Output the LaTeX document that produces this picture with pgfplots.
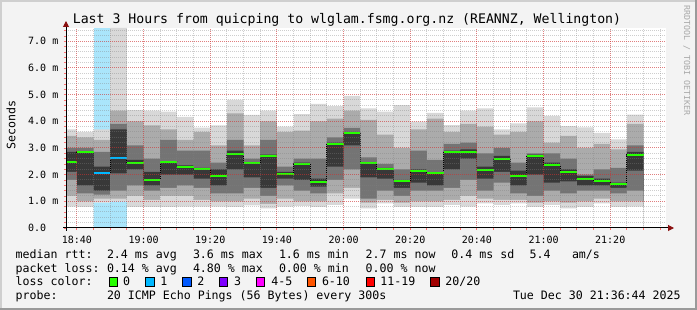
\documentclass[border=0pt]{standalone}
\usepackage{pgfplots}
\pgfplotsset{compat=1.18}
\usepackage{pgfplotstable}
\usetikzlibrary{arrows.meta}
\usepackage{fontspec}
\setmainfont{DejaVu Sans Mono}
\setmonofont{DejaVu Sans Mono}

\definecolor{bgc}{HTML}{F3F3F3}
\definecolor{brdlight}{HTML}{CFCFCF}
\definecolor{brddark}{HTML}{9A9A9A}
\definecolor{smA}{HTML}{D8D8D8}
\definecolor{smB}{HTML}{ABABAB}
\definecolor{smC}{HTML}{747474}
\definecolor{smD}{HTML}{383838}
\definecolor{loss0}{HTML}{26FF00}
\definecolor{loss1}{HTML}{00B8FF}
\definecolor{loss2}{HTML}{0059FF}
\definecolor{loss3}{HTML}{7E00FF}
\definecolor{loss4}{HTML}{FF00FF}
\definecolor{loss6}{HTML}{FF5500}
\definecolor{loss11}{HTML}{FF0000}
\definecolor{loss20}{HTML}{A10000}
\definecolor{lossbg}{HTML}{AAE5FB}
\definecolor{arrowred}{HTML}{8B1010}
\definecolor{wmark}{HTML}{A8A8A8}

% x = minutes after 18:00 (left edge of each 5-minute step)
\pgfplotstableread{
x   alo  ahi  blo  bhi  clo  chi  dlo  dhi  med
35  0.80 3.70 1.20 3.45 1.80 3.00 2.10 2.85 2.49
40  0.78 3.60 1.00 3.40 1.30 3.00 1.60 2.85 2.86
45  0.95 3.70 1.10 3.30 1.25 2.85 1.40 2.30 2.05
50  1.00 7.50 1.10 4.40 1.40 3.90 2.05 3.70 2.64
55  0.78 4.42 1.20 4.00 1.60 3.10 2.20 2.55 2.45
60  0.78 4.40 1.05 3.85 1.40 2.60 1.60 2.10 1.81
65  0.78 4.36 1.20 3.70 1.50 3.30 2.00 2.50 2.49
70  0.80 4.17 1.20 3.30 1.60 2.90 2.00 2.35 2.30
75  0.80 3.76 1.05 3.60 1.50 2.90 1.85 2.25 2.21
80  0.80 3.85 1.00 3.10 1.30 2.45 1.60 2.20 1.96
85  0.78 4.80 1.00 4.30 1.30 3.30 2.20 2.90 2.76
90  0.85 4.24 1.10 3.10 1.50 2.60 1.90 2.45 2.42
95  0.74 4.40 0.90 4.00 1.20 3.30 1.50 2.75 2.71
100 0.80 3.80 1.10 3.60 1.60 2.30 1.85 2.10 2.04
105 0.82 4.27 1.00 3.65 1.40 2.60 1.80 2.45 2.41
110 0.78 4.65 1.00 4.00 1.30 2.60 1.55 1.85 1.71
115 0.86 4.57 1.30 4.10 1.80 3.40 2.30 3.20 3.16
120 1.10 4.95 1.50 4.40 2.20 3.75 3.10 3.60 3.58
125 0.74 4.49 0.95 4.05 1.10 2.65 1.90 2.45 2.42
130 0.92 4.36 1.05 3.50 1.40 2.40 1.85 2.25 2.22
135 0.78 4.61 0.95 3.00 1.20 2.20 1.50 1.80 1.78
140 0.78 3.99 1.00 3.70 1.40 2.90 1.70 2.20 2.15
145 0.78 4.32 1.00 4.10 1.40 2.55 1.60 2.05 2.05
150 0.86 3.86 1.05 3.60 1.50 3.15 2.20 2.90 2.86
155 0.80 4.40 1.20 3.90 1.80 3.20 2.60 2.95 2.86
160 0.92 4.49 1.10 3.80 1.40 2.80 1.85 2.30 2.17
165 0.86 3.70 1.05 3.50 1.70 3.00 2.10 2.70 2.60
170 0.92 3.92 1.05 3.60 1.30 2.45 1.60 2.15 1.96
175 0.78 4.52 0.95 4.00 1.20 2.80 2.00 2.75 2.69
180 0.86 4.20 1.00 3.20 1.40 2.80 1.70 2.45 2.37
185 0.74 3.82 0.95 3.45 1.30 2.60 1.75 2.20 2.11
190 0.78 3.77 1.00 3.00 1.40 2.00 1.60 1.95 1.85
195 0.92 3.57 1.10 3.15 1.40 2.20 1.60 1.85 1.77
200 0.78 3.32 1.00 2.95 1.30 2.25 1.50 1.70 1.64
205 0.80 4.25 1.00 3.90 1.40 3.10 2.15 2.85 2.75
210 0.80 4.25 1.00 3.90 1.40 3.10 2.15 2.85 2.75
}\smoke

\begin{document}
\begin{tikzpicture}[x=1pt,y=1pt]
\fill[bgc] (0,0) rectangle (697,310);
\fill[brdlight] (0,308) rectangle (697,310);
\fill[brdlight] (0,0) rectangle (2,310);
\fill[brddark] (0,0) rectangle (697,2);
\fill[brddark] (695,0) rectangle (697,310);

\begin{axis}[
  at={(66pt,82pt)}, anchor=south west,
  scale only axis, width=600pt, height=200pt,
  xmin=36.7333, xmax=216.7333, ymin=0, ymax=7.5,
  axis line style={draw=none},
  axis background/.style={fill=white},
  axis on top,
  xtick={40,60,...,200},
  xticklabels={18:40,19:00,19:20,19:40,20:00,20:20,20:40,21:00,21:20},
  minor xtick={40,45,...,215},
  ytick={0,1,...,7},
  yticklabels={0.0,1.0 m,2.0 m,3.0 m,4.0 m,5.0 m,6.0 m,7.0 m},
  minor ytick={0.2,0.4,...,7.4},
  xtick pos=left, ytick pos=left,
  tick align=outside,
  major tick length=2pt, minor tick length=2pt,
  tick style={red!55, line width=0.8pt},
  grid=both,
  major grid style={red, opacity=0.38, line width=1pt, dash pattern=on 1pt off 1pt},
  minor grid style={gray, opacity=0.38, line width=1pt, dash pattern=on 1pt off 1pt},
  xticklabel style={font=\fontsize{10}{12}\selectfont, anchor=north, inner sep=0pt, yshift=-5.5pt},
  yticklabel style={font=\fontsize{10}{12}\selectfont, anchor=west, inner sep=0pt, xshift=-36pt},
]
% loss background (1 lost ping)
\addplot[fill=lossbg, draw=none] coordinates {(45,7.5) (55,7.5)} \closedcycle;

% smoke bands, painted from the outside in (upper edges) and back out (lower edges)
\addplot[const plot, fill=smA, draw=none] table[x=x,y=ahi]{\smoke} \closedcycle;
\addplot[const plot, fill=smB, draw=none] table[x=x,y=bhi]{\smoke} \closedcycle;
\addplot[const plot, fill=smC, draw=none] table[x=x,y=chi]{\smoke} \closedcycle;
\addplot[const plot, fill=smD, draw=none] table[x=x,y=dhi]{\smoke} \closedcycle;
\addplot[const plot, fill=smC, draw=none] table[x=x,y=dlo]{\smoke} \closedcycle;
\addplot[const plot, fill=smB, draw=none] table[x=x,y=clo]{\smoke} \closedcycle;
\addplot[const plot, fill=smA, draw=none] table[x=x,y=blo]{\smoke} \closedcycle;
\addplot[const plot, fill=white, draw=none] table[x=x,y=alo]{\smoke} \closedcycle;
% loss background below the smoke
\addplot[const plot, fill=lossbg, draw=none] coordinates {(45,0.95) (50,1.00) (55,1.00)} \closedcycle;

% median
\addplot[const plot, black, line width=0.8pt, dash pattern=on 1pt off 1pt] table[x=x,y=med]{\smoke};
\addplot[jump mark left, loss0, line width=2pt] table[x=x,y=med]{\smoke};
\addplot[jump mark left, loss1, line width=2pt] coordinates {(45,2.05) (50,2.64) (55,2.64)};
\end{axis}

% axis lines with arrows
\draw[black, line width=1pt, -{Triangle[length=6pt,width=6pt,color=arrowred]}] (63,82) -- (674,82);
\draw[black, line width=1pt, -{Triangle[length=6pt,width=6pt,color=arrowred]}] (66,79) -- (66,289);

% title and labels
\node[anchor=base, inner sep=0pt, font=\fontsize{13.2}{15}\selectfont] at (347,286) {Last 3 Hours from quicping to wlglam.fsmg.org.nz (REANNZ, Wellington)};
\node[rotate=90, inner sep=0pt, font=\fontsize{11.6}{14}\selectfont] at (11,185) {Seconds};
\node[rotate=-90, anchor=base west, inner sep=0pt, text=wmark, font=\fontsize{8.3}{10}\selectfont] at (684,305) {RRDTOOL / TOBI OETIKER};

% legend
\begin{scope}[every node/.style={anchor=base west, inner sep=0pt, font=\fontsize{11.6}{14}\selectfont}]
\node at (15.5,51) {median rtt:};
\node at (106.8,51) {2.4 ms avg};
\node at (192.8,51) {3.6 ms max};
\node at (278.8,51) {1.6 ms min};
\node at (365.5,51) {2.7 ms now};
\node at (451.2,51) {0.4 ms sd};
\node at (529.5,51) {5.4};
\node at (571.8,51) {am/s};

\node at (15.5,37.6) {packet loss:};
\node at (106.8,37.6) {0.14 \% avg};
\node at (192.8,37.6) {4.80 \% max};
\node at (278.8,37.6) {0.00 \% min};
\node at (365.5,37.6) {0.00 \% now};

\node at (15.5,24.2) {loss color:};
\node at (122.8,24.2) {0};
\node at (160.2,24.2) {1};
\node at (197.2,24.2) {2};
\node at (233.8,24.2) {3};
\node at (271.2,24.2) {4-5};
\node at (321.8,24.2) {6-10};
\node at (380.2,24.2) {11-19};
\node at (445.2,24.2) {20/20};

\node at (15.5,10.8) {probe:};
\node at (106.8,10.8) {20 ICMP Echo Pings (56 Bytes) every 300s};
\node at (512.8,10.8) {Tue Dec 30 21:36:44 2025};
\end{scope}
\foreach \bx/\bc in {109.3/loss0, 145.7/loss1, 182.7/loss2, 219.3/loss3, 256.3/loss4, 307.3/loss6, 366/loss11, 430.7/loss20}{
  \filldraw[fill=\bc, draw=black, line width=0.8pt] (\bx,24) rectangle ++(8.3,9);
}
\pgfresetboundingbox
\path[use as bounding box] (0,0) rectangle (697,310);
\end{tikzpicture}
\end{document}
